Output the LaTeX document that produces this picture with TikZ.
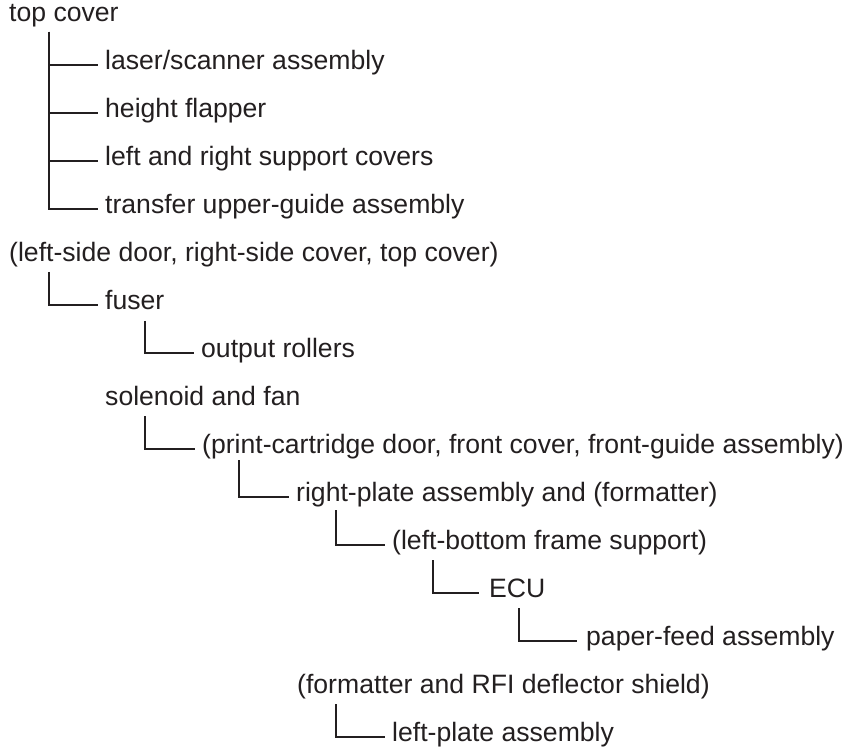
\documentclass[tikz,border=0pt]{standalone}
\usepackage{fontspec}
\setmainfont{Liberation Sans}
\definecolor{ink}{HTML}{231F20}
\begin{document}
\begin{tikzpicture}[x=1pt,y=-1pt,
  item/.style={anchor=west,inner sep=0pt,text=ink,
    font=\fontsize{26.6}{30}\selectfont,text height=19.8pt,text depth=10.8pt},
  link/.style={draw=ink,line width=2.6pt}]
\useasboundingbox (0,0) rectangle (849,751);
\node[item] (n0)  at (9,17)    {top cover};
\node[item] (n1)  at (105,65)  {laser/scanner assembly};
\node[item] (n2)  at (105,113) {height flapper};
\node[item] (n3)  at (105,161) {left and right support covers};
\node[item] (n4)  at (105,209) {transfer upper-guide assembly};
\node[item] (n5)  at (9,257)   {(left-side door, right-side cover, top cover)};
\node[item] (n6)  at (105,305) {fuser};
\node[item] (n7)  at (201,353) {output rollers};
\node[item] (n8)  at (105,401) {solenoid and fan};
\node[item] (n9)  at (202,449) {(print-cartridge door, front cover, front-guide assembly)};
\node[item] (n10) at (296,497) {right-plate assembly and (formatter)};
\node[item] (n11) at (392,545) {(left-bottom frame support)};
\node[item] (n12) at (489,593) {ECU};
\node[item] (n13) at (586,641) {paper-feed assembly};
\node[item] (n14) at (297,689) {(formatter and RFI deflector shield)};
\node[item] (n15) at (392,737) {left-plate assembly};
% connectors
\foreach \c in {n1,n2,n3,n4}
  \draw[link] ([xshift=40pt,yshift=-15pt]n0.west) |- ([xshift=-7pt]\c.west);
\draw[link] ([xshift=40pt,yshift=-15pt]n5.west) |- ([xshift=-7pt]n6.west);
\draw[link] ([xshift=40pt,yshift=-16pt]n6.west) |- ([xshift=-7pt]n7.west);
\draw[link] ([xshift=40pt,yshift=-15pt]n8.west) |- ([xshift=-7pt]n9.west);
\draw[link] ([xshift=37pt,yshift=-11pt]n9.west) |- ([xshift=-7pt]n10.west);
\draw[link] ([xshift=40pt,yshift=-13pt]n10.west) |- ([xshift=-7pt]n11.west);
\draw[link] ([xshift=41pt,yshift=-15pt]n11.west) |- ([xshift=-10pt]n12.west);
\draw[link] ([xshift=30pt,yshift=-15pt]n12.west) |- ([xshift=-9pt]n13.west);
\draw[link] ([xshift=39pt,yshift=-15pt]n14.west) |- ([xshift=-7pt]n15.west);
\end{tikzpicture}
\end{document}
